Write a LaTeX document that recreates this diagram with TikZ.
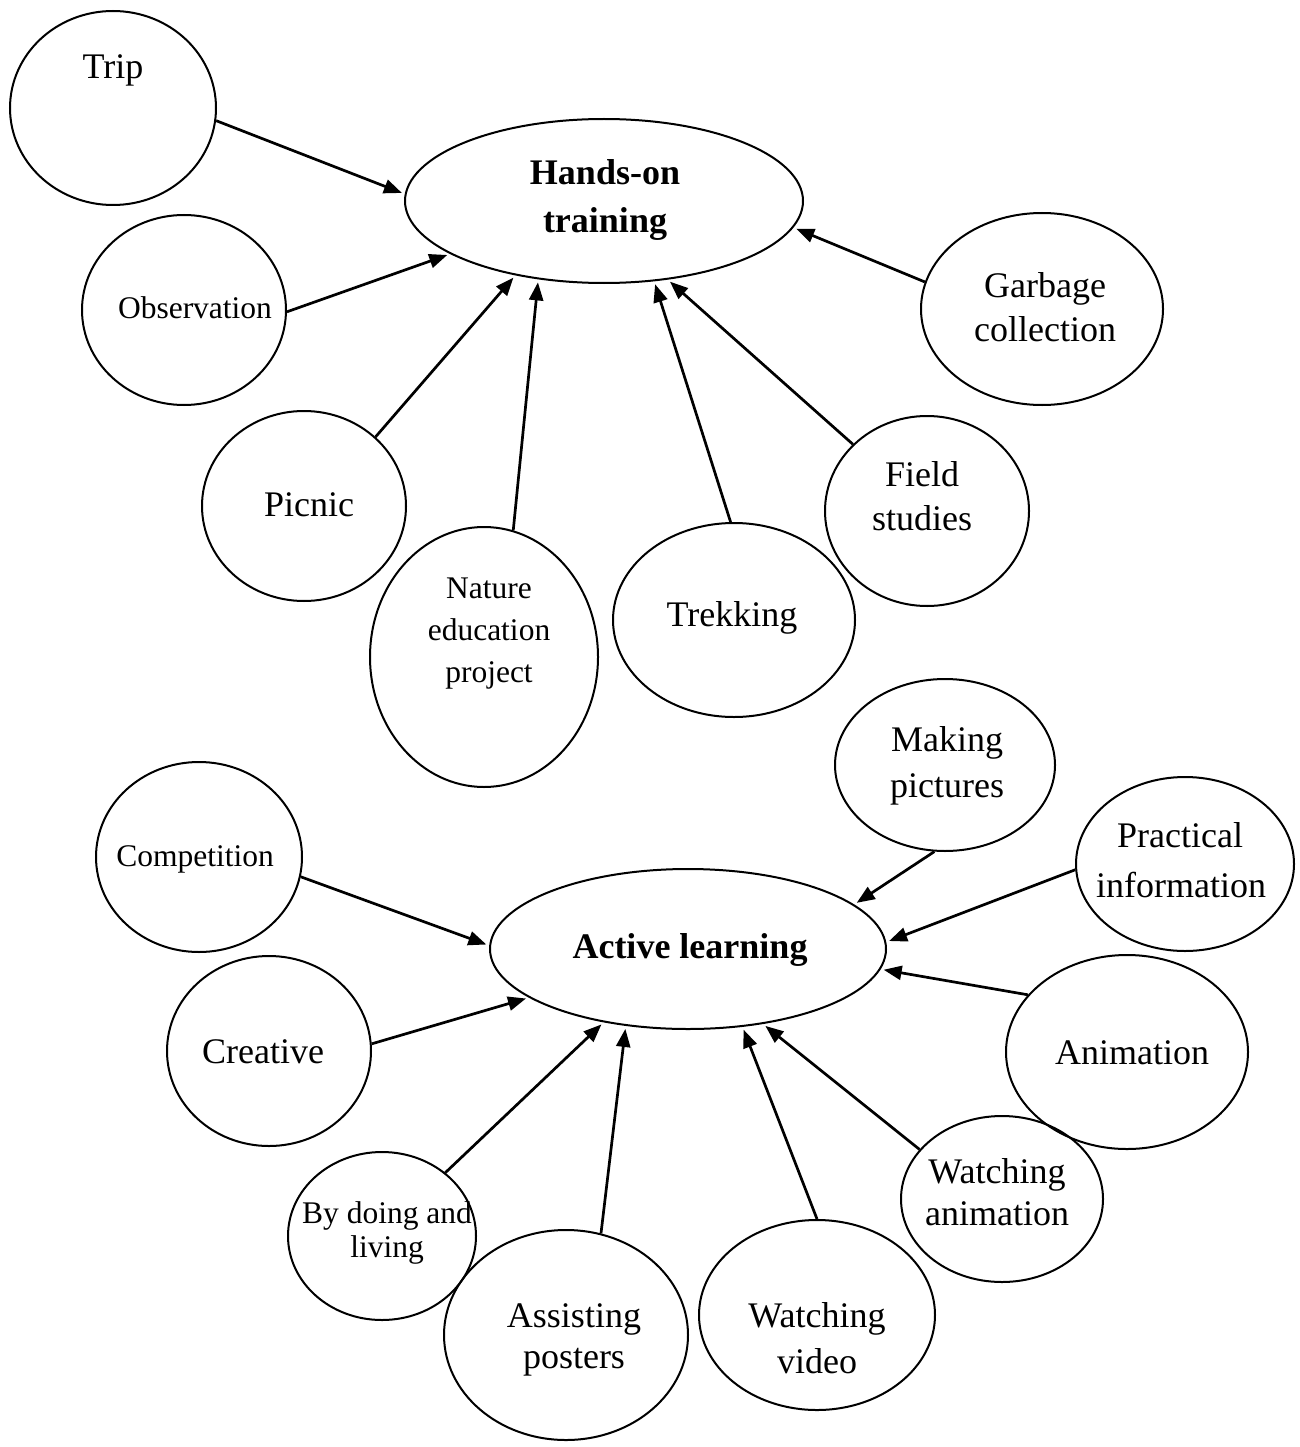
\documentclass[tikz,border=0pt]{standalone}
\usepackage{fontspec}
\setmainfont{Liberation Serif}
\usetikzlibrary{arrows.meta,shapes.geometric}
\begin{document}
\begin{tikzpicture}[x=1pt,y=-1pt,
 el/.style={draw, ellipse, line width=2pt, inner sep=0pt},
 lt/.style={font=\fontsize{36}{43}\selectfont, anchor=base, inner sep=0pt},
 st/.style={font=\fontsize{31.5}{38}\selectfont, anchor=base, inner sep=0pt},
 bt/.style={font=\fontsize{36}{43}\selectfont\bfseries, anchor=base, inner sep=0pt},
 arr/.style={line width=2.7pt, -{Triangle[length=18pt,width=14pt]}, shorten >=3pt}]
\useasboundingbox (0,0) rectangle (1299,1447);
% ellipses
\node[el, minimum width=206pt, minimum height=194pt] (trip) at (113,108) {};
\node[el, minimum width=398pt, minimum height=164pt] (hands) at (604,201) {};
\node[el, minimum width=204pt, minimum height=190pt] (obs) at (184,310) {};
\node[el, minimum width=242pt, minimum height=192pt] (garb) at (1042,309) {};
\node[el, minimum width=204pt, minimum height=190pt] (picnic) at (304,506) {};
\node[el, minimum width=204pt, minimum height=190pt] (field) at (927,511) {};
\node[el, minimum width=228pt, minimum height=260pt] (nature) at (484,657) {};
\node[el, minimum width=242pt, minimum height=194pt] (trek) at (734,620) {};
\node[el, minimum width=220pt, minimum height=172pt] (making) at (945,765) {};
\node[el, minimum width=206pt, minimum height=190pt] (comp) at (199,857) {};
\node[el, minimum width=218pt, minimum height=174pt] (prac) at (1185,864) {};
\node[el, minimum width=396pt, minimum height=160pt] (active) at (688,949) {};
\node[el, minimum width=204pt, minimum height=190pt] (creative) at (269,1051) {};
\node[el, minimum width=242pt, minimum height=194pt] (anim) at (1127,1052) {};
\node[el, minimum width=202pt, minimum height=166pt] (wanim) at (1002,1199) {};
\node[el, minimum width=188pt, minimum height=168pt] (bydo) at (382,1236) {};
\node[el, minimum width=244pt, minimum height=210pt] (assist) at (566,1335) {};
\node[el, minimum width=236pt, minimum height=190pt] (wvid) at (817,1315) {};
% texts
\node[lt] (tripT) at (113,79) {Trip};
\node[st] (obsT) at (195,318) {Observation};
\node[bt] (handsT1) at (605,185) {Hands-on};
\node[bt] (handsT2) at (605,233) {training};
\node[lt] (garbT1) at (1045,297) {Garbage};
\node[lt] (garbT2) at (1045,341) {collection};
\node[lt] (picT) at (309,516) {Picnic};
\node[lt] (fieldT1) at (922,486) {Field};
\node[lt] (fieldT2) at (922,530) {studies};
\node[st] (natT1) at (489,598) {Nature};
\node[st] (natT2) at (489,640) {education};
\node[st] (natT3) at (489,682) {project};
\node[lt] (trekT) at (732,626) {Trekking};
\node[lt] (makT1) at (947,751) {Making};
\node[lt] (makT2) at (947,797) {pictures};
\node[st] (compT) at (195,866) {Competition};
\node[lt] (pracT1) at (1180,847) {Practical};
\node[lt] (pracT2) at (1181,897) {information};
\node[bt] (actT) at (690,958) {Active learning};
\node[lt] (creT) at (263,1063) {Creative};
\node[lt] (animT) at (1132,1064) {Animation};
\node[lt] (wanT1) at (997,1183) {Watching};
\node[lt] (wanT2) at (997,1225) {animation};
\node[st] (bydT1) at (387,1223) {By doing and};
\node[st] (bydT2) at (387,1257) {living};
\node[lt] (assT1) at (574,1327) {Assisting};
\node[lt] (assT2) at (574,1368) {posters};
\node[lt] (wvT1) at (817,1327) {Watching};
\node[lt] (wvT2) at (817,1373) {video};
% arrows
\draw[arr] (trip.-7) -- (hands.178);
\draw[arr] (obs.-1) -- (hands.-161);
\draw[arr] (picnic.44) -- (hands.-140);
\draw[arr] (nature.77) -- (hands.-130);
\draw[arr] (trek.92) -- (hands.-58);
\draw[arr] (field.138) -- (hands.-51);
\draw[arr] (garb.167) -- (hands.-8);
\draw[arr] (making.-97) -- (active.15);
\draw[arr] (prac.-177) -- (active.2);
\draw[arr] (comp.-11) -- (active.179);
\draw[arr] (anim.150) -- (active.-6);
\draw[arr] (creative.4) -- (active.-163);
\draw[arr] (bydo.45) -- (active.-139);
\draw[arr] (assist.71) -- (active.-129);
\draw[arr] (wvid.90) -- (active.-55);
\draw[arr] (wanim.149) -- (active.-45);
\end{tikzpicture}
\end{document}
